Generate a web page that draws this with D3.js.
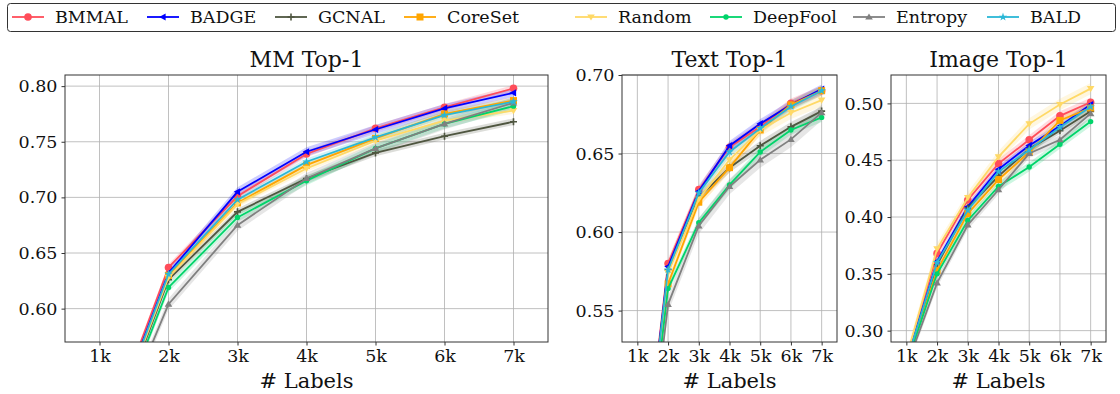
<!DOCTYPE html>
<html>
<head>
<meta charset="utf-8">
<script src="https://cdn.jsdelivr.net/npm/d3@7"></script>
<style>
  body { margin: 0; background: #fff; }
  svg { font-family: "DejaVu Serif", serif; }
</style>
</head>
<body>
<svg id="chart" width="1120" height="394"></svg>
<script>
// labels in thousands
const labels = [1, 2, 3, 4, 5, 6, 7];
const tickText = ["1k", "2k", "3k", "4k", "5k", "6k", "7k"];
const methods = ["BMMAL", "BADGE", "GCNAL", "CoreSet", "Random", "DeepFool", "Entropy", "BALD"];
const colors = ["#ff4d5a", "#0000ff", "#4f5640", "#ffa500", "#ffd966", "#00d46a", "#808080", "#2ab7d6"];
const markers = ["circle", "tri-left", "plus", "square", "tri-down", "dot", "tri-up", "star"];

// MM Top-1
const mmBMMAL    = [0.470, 0.637, 0.701, 0.739, 0.762, 0.781, 0.798];
const mmBADGE    = [0.468, 0.632, 0.705, 0.741, 0.761, 0.780, 0.794];
const mmGCNAL    = [0.462, 0.626, 0.687, 0.717, 0.740, 0.755, 0.768];
const mmCoreSet  = [0.466, 0.630, 0.695, 0.729, 0.753, 0.775, 0.787];
const mmRandom   = [0.464, 0.628, 0.694, 0.726, 0.751, 0.769, 0.778];
const mmDeepFool = [0.460, 0.619, 0.682, 0.715, 0.744, 0.766, 0.782];
const mmEntropy  = [0.455, 0.604, 0.675, 0.717, 0.744, 0.766, 0.785];
const mmBALD     = [0.466, 0.631, 0.698, 0.732, 0.754, 0.774, 0.786];
const mmStd      = [0.003, 0.004, 0.003, 0.003, 0.003, 0.004, 0.005, 0.003];

// Text Top-1
const txBMMAL    = [0.410, 0.580, 0.627, 0.654, 0.667, 0.682, 0.690];
const txBADGE    = [0.408, 0.578, 0.626, 0.655, 0.669, 0.681, 0.691];
const txGCNAL    = [0.405, 0.576, 0.622, 0.641, 0.655, 0.667, 0.677];
const txCoreSet  = [0.402, 0.567, 0.619, 0.641, 0.665, 0.681, 0.690];
const txRandom   = [0.404, 0.574, 0.621, 0.646, 0.665, 0.676, 0.684];
const txDeepFool = [0.398, 0.564, 0.606, 0.630, 0.651, 0.665, 0.673];
const txEntropy  = [0.392, 0.554, 0.604, 0.629, 0.646, 0.659, 0.676];
const txBALD     = [0.406, 0.576, 0.625, 0.651, 0.666, 0.680, 0.690];
const txStd      = [0.003, 0.003, 0.003, 0.003, 0.004, 0.003, 0.005, 0.003];

// Image Top-1
const imBMMAL    = [0.275, 0.368, 0.415, 0.447, 0.468, 0.489, 0.501];
const imBADGE    = [0.273, 0.361, 0.409, 0.442, 0.463, 0.480, 0.499];
const imGCNAL    = [0.272, 0.358, 0.408, 0.436, 0.460, 0.476, 0.493];
const imCoreSet  = [0.271, 0.353, 0.403, 0.433, 0.457, 0.485, 0.496];
const imRandom   = [0.276, 0.372, 0.417, 0.453, 0.482, 0.499, 0.513];
const imDeepFool = [0.270, 0.350, 0.397, 0.427, 0.444, 0.464, 0.484];
const imEntropy  = [0.268, 0.342, 0.393, 0.424, 0.456, 0.468, 0.491];
const imBALD     = [0.272, 0.360, 0.406, 0.440, 0.459, 0.479, 0.497];
const imStd      = [0.004, 0.003, 0.003, 0.004, 0.005, 0.004, 0.004, 0.003];

const panels = [
  { title: "MM Top-1", x0: 65, x1: 548, domain: [0.57, 0.81], ticks: [0.60, 0.65, 0.70, 0.75, 0.80],
    series: [mmBMMAL, mmBADGE, mmGCNAL, mmCoreSet, mmRandom, mmDeepFool, mmEntropy, mmBALD], std: mmStd },
  { title: "Text Top-1", x0: 622, x1: 837, domain: [0.53, 0.70], ticks: [0.55, 0.60, 0.65, 0.70],
    series: [txBMMAL, txBADGE, txGCNAL, txCoreSet, txRandom, txDeepFool, txEntropy, txBALD], std: txStd },
  { title: "Image Top-1", x0: 891, x1: 1106, domain: [0.29, 0.525], ticks: [0.30, 0.35, 0.40, 0.45, 0.50],
    series: [imBMMAL, imBADGE, imGCNAL, imCoreSet, imRandom, imDeepFool, imEntropy, imBALD], std: imStd }
];

const svg = d3.select("#chart");
const plotTop = 75, plotBottom = 342;

const drawMarker = (g, type, cx, cy, color) => {
  const tri = (pts) => g.append("path").attr("d", "M" + pts.map(p => [cx + p[0], cy + p[1]].join(",")).join("L") + "Z").attr("fill", color);
  if (type === "circle") g.append("circle").attr("cx", cx).attr("cy", cy).attr("r", 3.8).attr("fill", color);
  else if (type === "dot") g.append("circle").attr("cx", cx).attr("cy", cy).attr("r", 2.7).attr("fill", color);
  else if (type === "square") g.append("rect").attr("x", cx - 3.5).attr("y", cy - 3.5).attr("width", 7).attr("height", 7).attr("fill", color);
  else if (type === "tri-left") tri([[-3.8, 0], [2.6, -3.6], [2.6, 3.6]]);
  else if (type === "tri-down") tri([[0, 3.6], [-3.8, -2.6], [3.8, -2.6]]);
  else if (type === "tri-up") tri([[0, -3.6], [-3.8, 2.6], [3.8, 2.6]]);
  else if (type === "plus") g.append("path").attr("d", `M${cx - 3.5},${cy}H${cx + 3.5}M${cx},${cy - 3.5}V${cy + 3.5}`).attr("stroke", color).attr("stroke-width", 1.6);
  else if (type === "star") g.append("path").attr("d", d3.symbol(d3.symbolStar, 22)()).attr("transform", `translate(${cx},${cy})`).attr("fill", color);
};

panels.forEach((p, pi) => {
  const x = d3.scaleLinear().domain([0.5, 7.5]).range([p.x0, p.x1]);
  const y = d3.scaleLinear().domain(p.domain).range([plotBottom, plotTop]);
  const g = svg.append("g");
  const clipId = "clip" + pi;
  svg.append("clipPath").attr("id", clipId).append("rect")
    .attr("x", p.x0).attr("y", plotTop).attr("width", p.x1 - p.x0).attr("height", plotBottom - plotTop);

  // grid
  g.selectAll(".vg").data(labels).enter().append("line")
    .attr("x1", d => x(d)).attr("x2", d => x(d)).attr("y1", plotTop).attr("y2", plotBottom)
    .attr("stroke", "#b0b0b0").attr("stroke-width", 0.8);
  g.selectAll(".hg").data(p.ticks).enter().append("line")
    .attr("x1", p.x0).attr("x2", p.x1).attr("y1", d => y(d)).attr("y2", d => y(d))
    .attr("stroke", "#b0b0b0").attr("stroke-width", 0.8);

  const plot = g.append("g").attr("clip-path", `url(#${clipId})`);
  const area = d3.area().x((d, i) => x(labels[i]));
  const line = d3.line().x((d, i) => x(labels[i])).y(d => y(d));

  p.series.forEach((vals, si) => {
    const s = p.std[si];
    plot.append("path").datum(vals)
      .attr("d", area.y0(d => y(d - s)).y1(d => y(d + s)))
      .attr("fill", colors[si]).attr("opacity", 0.2);
  });
  p.series.forEach((vals, si) => {
    plot.append("path").datum(vals).attr("d", line)
      .attr("fill", "none").attr("stroke", colors[si]).attr("stroke-width", 1.8);
    vals.forEach((v, i) => drawMarker(plot, markers[si], x(labels[i]), y(v), colors[si]));
  });

  // frame
  g.append("rect").attr("x", p.x0).attr("y", plotTop).attr("width", p.x1 - p.x0).attr("height", plotBottom - plotTop)
    .attr("fill", "none").attr("stroke", "#333").attr("stroke-width", 1);

  // axes
  const xAxis = g.append("g").attr("transform", `translate(0,${plotBottom})`)
    .call(d3.axisBottom(x).tickValues(labels).tickFormat((d, i) => tickText[i]).tickSize(3.5).tickPadding(4));
  const yAxis = g.append("g").attr("transform", `translate(${p.x0},0)`)
    .call(d3.axisLeft(y).tickValues(p.ticks).tickFormat(d3.format(".2f")).tickSize(3.5).tickPadding(4));
  [xAxis, yAxis].forEach(a => {
    a.select(".domain").remove();
    a.selectAll("line").attr("stroke", "#333");
    a.selectAll("text").attr("font-family", "DejaVu Serif").attr("font-size", 17.5).attr("fill", "#111");
  });

  g.append("text").attr("x", (p.x0 + p.x1) / 2).attr("y", 67).attr("text-anchor", "middle")
    .attr("font-size", 22).attr("fill", "#111").text(p.title);
  g.append("text").attr("x", (p.x0 + p.x1) / 2).attr("y", 388).attr("text-anchor", "middle")
    .attr("font-size", 21).attr("fill", "#111").text("# Labels");
});

// legend
const legendX = [12, 147, 275, 404, 575, 710, 853, 987];
const lg = svg.append("g");
lg.append("rect").attr("x", 7.5).attr("y", 3.5).attr("width", 1108).attr("height", 28).attr("rx", 3)
  .attr("fill", "#fff").attr("stroke", "#333").attr("stroke-width", 1);
methods.forEach((m, i) => {
  lg.append("line").attr("x1", legendX[i]).attr("x2", legendX[i] + 32).attr("y1", 17).attr("y2", 17)
    .attr("stroke", colors[i]).attr("stroke-width", 1.8);
  drawMarker(lg, markers[i], legendX[i] + 16, 17, colors[i]);
  lg.append("text").attr("x", legendX[i] + 43).attr("y", 23).attr("font-size", 17.5).attr("fill", "#111").text(m);
});
</script>
</body>
</html>
